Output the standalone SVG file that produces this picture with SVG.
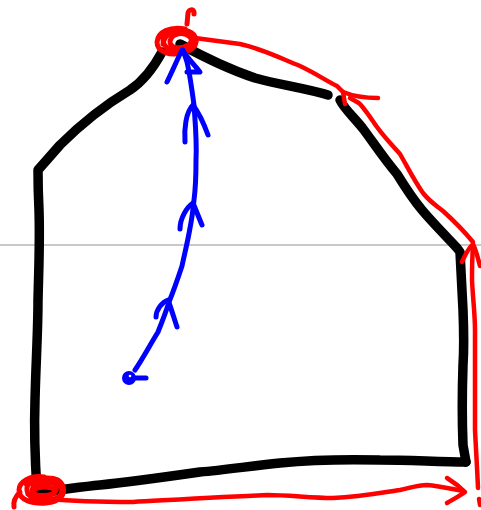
<svg xmlns="http://www.w3.org/2000/svg" width="481" height="510" viewBox="0 0 481 510">
<style>
.k{fill:none;stroke:#000;stroke-width:9.5;stroke-linecap:round;stroke-linejoin:round}
.r{fill:none;stroke:#f00;stroke-width:4.5;stroke-linecap:round;stroke-linejoin:round}
.rs{fill:none;stroke:#f00;stroke-width:5;stroke-linecap:round;stroke-linejoin:round}
.b{fill:none;stroke:#00f;stroke-width:5;stroke-linecap:round;stroke-linejoin:round}
</style>
<rect width="481" height="510" fill="#fff"/>
<line x1="0" y1="245" x2="481" y2="245" stroke="#c8c8c8" stroke-width="2"/>
<g id="outline">
<path class="k" d="M37,490 C35,460 34,430 35,400 C36,360 38,330 38,300 C39,260 40,240 39,210 C38,190 38,180 38,170 L60,145 C80,125 105,105 130,90 C145,80 155,65 162,52"/>
<path class="k" d="M180,44 C200,55 225,68 255,78 C280,85 305,88 328,95"/>
<path class="k" d="M340,100 C345,110 355,118 364,130 C375,145 385,160 397,174 C405,187 412,198 422,210 C432,222 445,235 457,248 L460,252 C461,270 462,290 463,310 C464,335 464,350 463,365 C462,395 462,420 463,445 L466,462"/>
<path class="k" d="M466,462 C440,462 410,460 380,460 C340,459 310,460 280,463 C250,466 225,470 200,472 C165,477 130,482 100,485 C80,487 60,490 40,492"/>
</g>
<g id="red">
<path class="rs" d="M187,24 L188,13 C189,9 193,9 194,12 L194,14"/>
<path class="rs" d="M185,29 C170,26 158,32 157,42 C157,52 170,56 182,53 C194,50 199,42 194,35 C188,28 174,28 166,34 C160,40 164,50 176,51 C188,52 196,44 190,37 C184,31 172,33 170,41 C169,48 180,50 188,45 C194,41 192,33 184,31"/>
<path class="rs" d="M163,44 C164,36 172,30 180,30 C190,30 196,36 196,42 C195,50 184,54 174,52"/>
<path class="r" d="M195,38 C210,40 225,42 240,44 C260,48 280,58 300,66 C315,73 325,80 337,86 L343,92"/>
<path class="r" d="M378,98 C365,98 355,97 343,92 L345,104"/>
<path class="r" d="M350,98 C355,101 358,102 360,104 C367,112 372,120 377,127 C385,138 393,146 400,154 C408,168 415,182 423,193 C430,202 437,206 443,211 C453,220 463,230 473,242"/>
<path class="r" d="M462,262 C465,255 468,249 473,244 C476,250 478,258 480,266"/>
<path class="r" d="M473,246 C472,260 472,270 472,280 C473,300 475,315 475,330 C475,370 475,400 475,430 C476,450 477,465 478,488"/>
<path class="r" d="M479,499 L480,505"/>
<path class="rs" d="M44,477 C30,475 19,482 19,490 C19,500 32,504 46,503 C60,502 66,494 62,486 C57,478 42,476 32,481 C24,486 25,497 38,500 C50,503 62,498 62,490 C61,482 50,479 40,481 C30,484 30,494 40,496 C50,498 58,492 56,486 C53,481 44,482 38,486"/>
<path class="rs" d="M26,484 C34,478 50,476 58,480 C64,484 66,492 60,498 C54,502 40,504 30,501"/>
<path class="rs" d="M32,490 C40,486 50,486 56,490 M28,494 C36,496 46,496 54,494"/>
<path class="rs" d="M20,492 C16,496 13,502 14,507"/>
<path class="r" d="M50,499 C80,502 110,502 133,502 C170,500 220,497 267,495 C290,495 310,498 333,498 C360,497 380,493 400,490 C410,488 418,485 427,485 C440,486 452,489 463,491"/>
<path class="r" d="M447,478 C455,483 460,487 465,492 C458,497 452,500 447,503"/>
</g>
<g id="blue">
<circle cx="129" cy="378" r="5" fill="#00f" stroke="#00f" stroke-width="4"/>
<circle cx="130" cy="376" r="1.3" fill="#fff"/>
<path class="b" d="M134,378 L146,378"/>
<path class="b" d="M135,370 C142,360 150,345 158,332 C162,322 166,312 169,302 C174,290 178,278 182,266 C185,252 188,240 190,228 C192,218 193,210 194,200 C196,185 196,172 196,160 C197,140 195,120 194,105 C192,90 190,75 187,62 L183,50"/>
<path class="b" d="M156,317 C156,310 162,302 168,300 C171,308 174,318 177,327"/>
<path class="b" d="M180,229 C180,218 187,207 193,203 C196,210 199,218 202,225"/>
<path class="b" d="M185,142 C184,128 186,112 193,105 C199,113 204,124 208,135"/>
<path class="b" d="M167,82 C172,72 177,60 182,50 C188,58 195,66 200,72 L187,72"/>
</g>
</svg>
